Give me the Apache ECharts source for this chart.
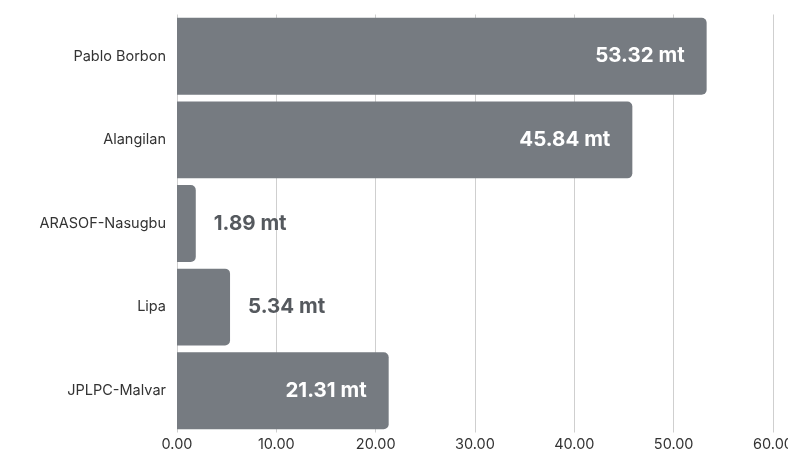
<!DOCTYPE html>
<html>
<head>
<meta charset="utf-8">
<script src="https://cdn.jsdelivr.net/npm/echarts@6/dist/echarts.min.js"></script>
<style>
html,body{margin:0;padding:0;background:#fff;}
#c{width:788px;height:454px;}
</style>
</head>
<body>
<div id="c"></div>
<script>
const categories = ['Pablo Borbon', 'Alangilan', 'ARASOF-Nasugbu', 'Lipa', 'JPLPC-Malvar'];
const values = [53.32, 45.84, 1.89, 5.34, 21.31];
const unit = 'mt';
const xTicks = [0, 10, 20, 30, 40, 50, 60];

const chart = echarts.init(document.getElementById('c'));
const data = values.map(v => ({
  value: v,
  label: v > 10
    ? { position: 'insideRight', distance: 22, color: '#ffffff' }
    : { position: 'right', distance: 18, color: '#55595e' }
}));
chart.setOption({
  backgroundColor: '#ffffff',
  animation: false,
  grid: { left: 177, right: 15, top: 14.5, bottom: 21.5, containLabel: false, outerBoundsMode: 'none' },
  xAxis: {
    type: 'value',
    min: xTicks[0],
    max: xTicks[xTicks.length - 1],
    interval: 10,
    axisLine: { show: false },
    axisTick: { show: false },
    axisLabel: { color: '#333', fontSize: 14.5, fontFamily: 'Inter', margin: 5,
      formatter: v => v.toFixed(2) },
    splitLine: { show: true, lineStyle: { color: '#cfcfcf', width: 1 } }
  },
  yAxis: {
    type: 'category',
    inverse: true,
    data: categories,
    axisLine: { show: false },
    axisTick: { show: false },
    axisLabel: { color: '#333', fontSize: 14.5, fontFamily: 'Inter', margin: 11 }
  },
  series: [{
    type: 'bar',
    data: data,
    barCategoryGap: '8%',
    itemStyle: { color: '#767b81', borderRadius: [0, 5, 5, 0] },
    label: {
      show: true,
      fontSize: 20.5,
      fontWeight: 'bold',
      fontFamily: 'Inter',
      formatter: p => p.value.toFixed(2) + ' ' + unit
    }
  }]
});
</script>
</body>
</html>
